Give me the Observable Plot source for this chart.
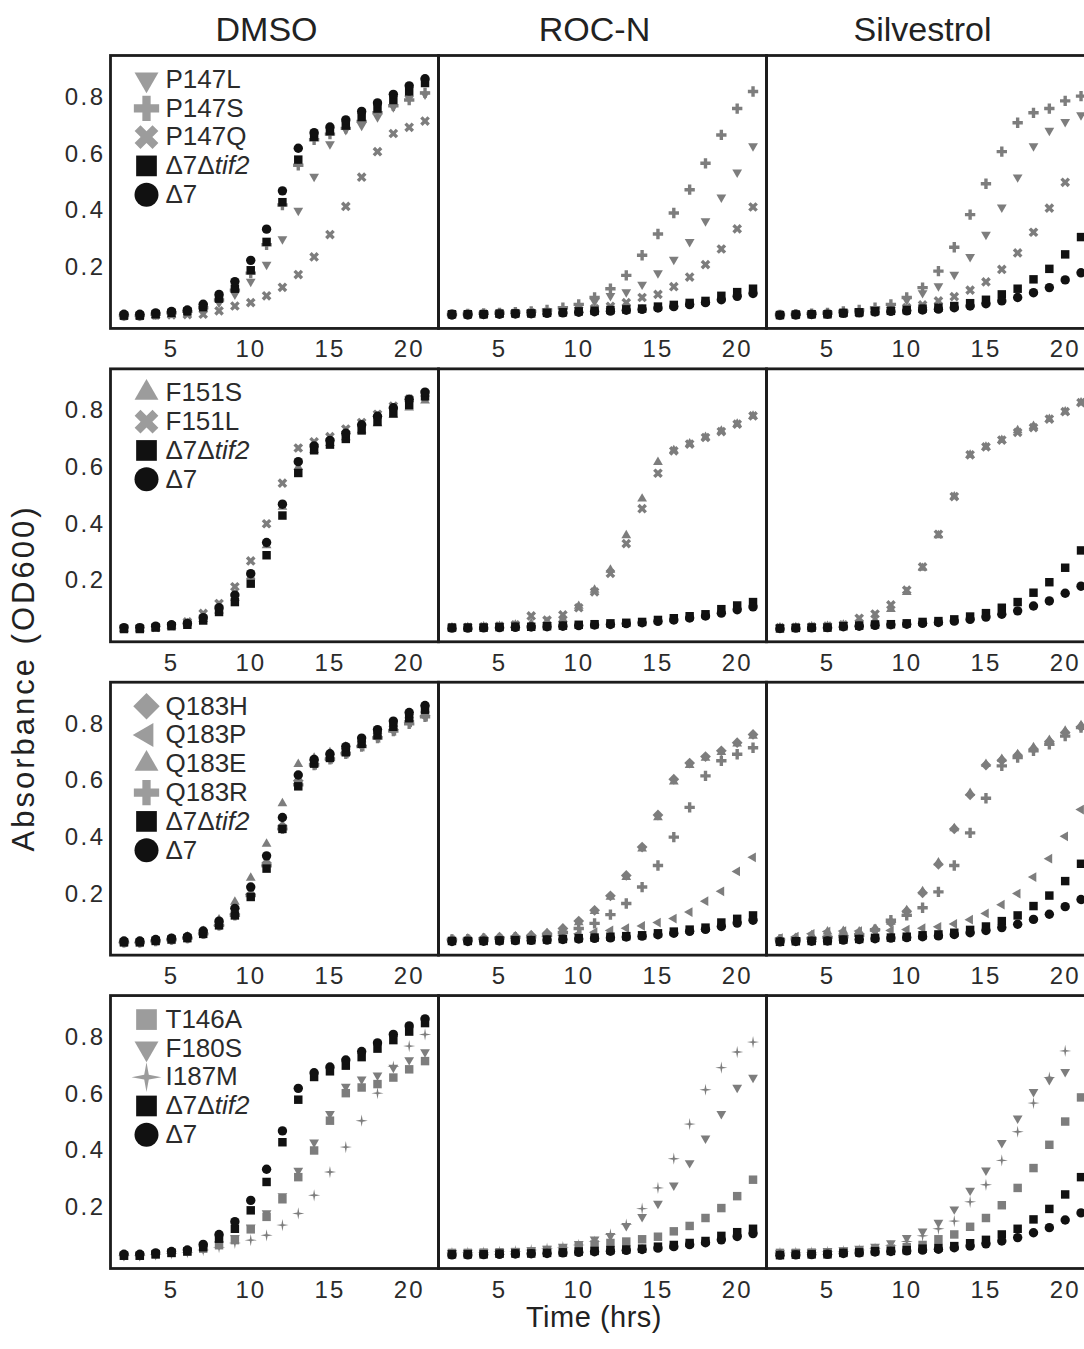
<!DOCTYPE html>
<html><head><meta charset="utf-8">
<script src="https://cdn.jsdelivr.net/npm/d3@7"></script>
<script src="https://cdn.jsdelivr.net/npm/@observablehq/plot@0.6"></script>
<style>
html,body{margin:0;padding:0;background:#fff;overflow:hidden;}
#chart svg{display:block;max-width:none;}
g[aria-label="y-axis tick label"] text{letter-spacing:2.5px;}
g[aria-label="x-axis tick label"] text{letter-spacing:2px;}
g[aria-label="legend-label"] text{letter-spacing:2px;}
g[aria-label="panel-title"] text{letter-spacing:2px;}
</style></head>
<body><div id="chart"></div>
<script>
// ---------- data ----------
const hours = [2,3,4,5,6,7,8,9,10,11,12,13,14,15,16,17,18,19,20,21];
const treatments = ["DMSO","ROC-N","Silvestrol"];

// each series: [DMSO, ROC-N, Silvestrol]
const d7tif2 = [
 [0.03,0.03,0.035,0.04,0.045,0.06,0.09,0.125,0.19,0.29,0.43,0.58,0.66,0.68,0.70,0.73,0.76,0.79,0.82,0.85],
 [0.035,0.035,0.035,0.037,0.038,0.038,0.04,0.042,0.045,0.047,0.05,0.052,0.055,0.062,0.068,0.075,0.082,0.10,0.113,0.125],
 [0.032,0.034,0.035,0.035,0.04,0.042,0.046,0.047,0.05,0.055,0.058,0.064,0.074,0.086,0.105,0.125,0.158,0.195,0.246,0.307]
];
const d7 = [
 [0.035,0.035,0.04,0.045,0.05,0.07,0.105,0.15,0.225,0.335,0.47,0.62,0.675,0.695,0.72,0.75,0.78,0.81,0.84,0.865],
 [0.033,0.033,0.034,0.035,0.036,0.037,0.038,0.04,0.042,0.044,0.046,0.049,0.052,0.057,0.062,0.069,0.076,0.086,0.098,0.108],
 [0.032,0.033,0.034,0.035,0.038,0.04,0.043,0.045,0.047,0.05,0.053,0.058,0.064,0.072,0.082,0.094,0.111,0.129,0.156,0.181]
];
const P147L = [
 [0.03,0.03,0.035,0.04,0.045,0.055,0.075,0.105,0.15,0.21,0.30,0.40,0.52,0.635,0.685,0.70,0.73,0.765,0.795,0.81],
 [0.035,0.035,0.036,0.038,0.04,0.042,0.046,0.052,0.062,0.08,0.10,0.113,0.14,0.18,0.228,0.29,0.363,0.447,0.535,0.628],
 [0.033,0.035,0.036,0.038,0.042,0.046,0.052,0.065,0.085,0.11,0.134,0.175,0.237,0.316,0.412,0.518,0.628,0.682,0.713,0.737]
];
const P147S = [
 [0.03,0.03,0.035,0.04,0.045,0.058,0.085,0.12,0.18,0.28,0.42,0.56,0.65,0.67,0.69,0.715,0.745,0.77,0.79,0.815],
 [0.035,0.036,0.038,0.04,0.042,0.045,0.05,0.058,0.07,0.094,0.125,0.172,0.243,0.318,0.392,0.474,0.567,0.667,0.76,0.82],
 [0.033,0.035,0.037,0.04,0.045,0.05,0.058,0.07,0.094,0.129,0.187,0.271,0.386,0.495,0.608,0.71,0.745,0.76,0.787,0.804]
];
const P147Q = [
 [0.03,0.03,0.032,0.033,0.034,0.035,0.047,0.064,0.076,0.10,0.13,0.175,0.237,0.316,0.415,0.518,0.608,0.672,0.694,0.716],
 [0.035,0.035,0.036,0.037,0.038,0.04,0.042,0.045,0.05,0.055,0.063,0.076,0.094,0.105,0.132,0.166,0.21,0.265,0.336,0.413],
 [0.033,0.034,0.035,0.036,0.038,0.04,0.044,0.05,0.058,0.068,0.082,0.097,0.12,0.149,0.193,0.251,0.324,0.409,0.50,null]
];
const F151S = [
 [0.03,0.03,0.035,0.04,0.05,0.065,0.095,0.14,0.215,0.325,0.46,0.6,0.66,0.685,0.705,0.73,0.755,0.785,0.81,0.835],
 [0.035,0.036,0.038,0.04,0.045,0.05,0.055,0.065,0.111,0.168,0.238,0.36,0.489,0.618,0.66,0.683,0.706,0.728,0.753,0.781],
 [0.035,0.036,0.038,0.04,0.045,0.05,0.06,0.1,0.16,0.245,0.36,0.497,0.644,0.672,0.696,0.73,0.745,0.77,0.796,0.828]
];
const F151L = [
 [0.032,0.033,0.036,0.042,0.055,0.085,0.12,0.179,0.27,0.401,0.544,0.668,0.69,0.708,0.735,0.758,0.787,0.816,0.84,0.86],
 [0.035,0.036,0.038,0.04,0.045,0.076,0.061,0.08,0.105,0.161,0.226,0.331,0.454,0.579,0.658,0.682,0.705,0.726,0.752,0.781],
 [0.035,0.036,0.038,0.04,0.045,0.068,0.083,0.115,0.167,0.249,0.364,0.497,0.644,0.672,0.696,0.723,0.74,0.77,0.796,0.828]
];
const Q183H = [
 [0.03,0.03,0.035,0.04,0.045,0.06,0.09,0.13,0.2,0.31,0.44,0.6,0.66,0.68,0.70,0.725,0.755,0.78,0.81,0.83],
 [0.04,0.042,0.045,0.048,0.05,0.055,0.062,0.079,0.105,0.143,0.194,0.266,0.366,0.479,0.605,0.662,0.685,0.705,0.734,0.763],
 [0.04,0.042,0.045,0.05,0.055,0.06,0.075,0.10,0.14,0.205,0.305,0.43,0.55,0.655,0.672,0.69,0.712,0.738,0.77,0.79]
];
const Q183P = [
 [0.03,0.03,0.035,0.04,0.045,0.06,0.09,0.13,0.2,0.3,0.43,0.59,0.655,0.675,0.695,0.72,0.75,0.775,0.805,0.825],
 [0.038,0.039,0.04,0.042,0.044,0.046,0.05,0.055,0.06,0.066,0.072,0.08,0.088,0.10,0.114,0.137,0.175,0.21,0.28,0.33],
 [0.045,0.05,0.06,0.068,0.07,0.07,0.07,0.072,0.075,0.08,0.085,0.095,0.11,0.132,0.163,0.202,0.26,0.325,0.404,0.498]
];
const Q183E = [
 [0.03,0.032,0.036,0.042,0.05,0.07,0.11,0.173,0.257,0.377,0.52,0.658,0.68,0.7,0.72,0.745,0.775,0.8,0.83,0.85],
 [0.04,0.042,0.045,0.048,0.05,0.055,0.062,0.075,0.10,0.14,0.19,0.26,0.36,0.47,0.596,0.655,0.68,0.7,0.73,0.758],
 [0.04,0.045,0.055,0.068,0.07,0.068,0.077,0.102,0.143,0.21,0.311,0.432,0.556,0.658,0.676,0.693,0.717,0.743,0.775,0.795]
];
const Q183R = [
 [0.03,0.03,0.035,0.04,0.045,0.06,0.09,0.125,0.195,0.3,0.43,0.585,0.655,0.675,0.695,0.72,0.75,0.775,0.8,0.825],
 [0.04,0.041,0.043,0.045,0.048,0.05,0.055,0.065,0.079,0.097,0.128,0.167,0.225,0.301,0.401,0.506,0.617,0.67,0.693,0.716],
 [0.04,0.042,0.044,0.047,0.05,0.055,0.075,0.108,0.125,0.152,0.208,0.301,0.416,0.538,0.652,0.681,0.705,0.728,0.757,0.787]
];
const T146A = [
 [0.03,0.03,0.035,0.04,0.045,0.055,0.067,0.085,0.123,0.167,0.229,0.307,0.401,0.506,0.603,0.623,0.635,0.658,0.687,0.716],
 [0.04,0.04,0.041,0.042,0.043,0.045,0.05,0.055,0.062,0.07,0.075,0.08,0.088,0.097,0.116,0.135,0.163,0.198,0.24,0.298],
 [0.04,0.04,0.041,0.042,0.044,0.046,0.05,0.055,0.06,0.068,0.088,0.105,0.132,0.163,0.208,0.269,0.339,0.421,0.503,0.588]
];
const F180S = [
 [0.03,0.03,0.035,0.04,0.045,0.055,0.07,0.093,0.13,0.18,0.24,0.33,0.43,0.53,0.626,0.652,0.666,0.693,0.72,0.748],
 [0.04,0.041,0.042,0.044,0.046,0.05,0.055,0.062,0.072,0.088,0.10,0.135,0.167,0.214,0.278,0.357,0.444,0.53,0.623,0.658],
 [0.04,0.042,0.044,0.047,0.05,0.055,0.062,0.075,0.093,0.116,0.147,0.194,0.26,0.331,0.428,0.514,0.608,0.65,0.678,null]
];
const I187M = [
 [0.03,0.03,0.034,0.038,0.042,0.05,0.06,0.075,0.085,0.102,0.138,0.179,0.243,0.325,0.413,0.506,0.603,0.697,0.769,0.81],
 [0.04,0.041,0.042,0.044,0.046,0.05,0.055,0.06,0.068,0.08,0.105,0.14,0.196,0.269,0.372,0.494,0.615,0.693,0.748,0.783],
 [0.04,0.041,0.042,0.044,0.046,0.05,0.055,0.065,0.08,0.10,0.125,0.152,0.22,0.28,0.366,0.467,0.568,0.658,0.752,null]
];

const panelRows = [
 {row:1, strains:[["P147L",P147L,"triDown"],["P147S",P147S,"plus"],["P147Q",P147Q,"times"]]},
 {row:2, strains:[["F151S",F151S,"triUp"],["F151L",F151L,"times"]]},
 {row:3, strains:[["Q183H",Q183H,"diamond"],["Q183P",Q183P,"triLeft"],["Q183E",Q183E,"triUp"],["Q183R",Q183R,"plus"]]},
 {row:4, strains:[["T146A",T146A,"square"],["F180S",F180S,"triDown"],["I187M",I187M,"star4"]]}
];
const controls = [["Δ7Δtif2", d7tif2, "square"], ["Δ7", d7, "circle"]];

// ---------- symbols ----------
function poly(pts){
  return {draw(ctx, size){
    const r = Math.sqrt(size/Math.PI);
    pts.forEach(([x,y],i) => i ? ctx.lineTo(x*r,y*r) : ctx.moveTo(x*r,y*r));
    ctx.closePath();
  }};
}
const s60 = Math.sqrt(3)/2, R = 1.2, L = 1.1, w = 0.36;
const plusPts = [[-w,-L],[w,-L],[w,-w],[L,-w],[L,w],[w,w],[w,L],[-w,L],[-w,w],[-L,w],[-L,-w],[-w,-w]];
const SYM = {
  square: poly([[-0.9,-0.9],[0.9,-0.9],[0.9,0.9],[-0.9,0.9]]),
  circle: {draw(ctx,size){const r=Math.sqrt(size/Math.PI); ctx.moveTo(r,0); ctx.arc(0,0,r,0,2*Math.PI); ctx.closePath();}},
  triDown: poly([[0,R],[-R*s60,-R/2],[R*s60,-R/2]]),
  triUp: poly([[0,-R],[R*s60,R/2],[-R*s60,R/2]]),
  triLeft: poly([[-R,0],[R/2,-R*s60],[R/2,R*s60]]),
  plus: poly(plusPts),
  times: poly(plusPts.map(([x,y]) => [(x-y)/Math.SQRT2,(x+y)/Math.SQRT2])),
  diamond: poly([[0,-1.15],[1.15,0],[0,1.15],[-1.15,0]]),
  star4: poly([[0,-1.3],[0.2,-0.2],[1.3,0],[0.2,0.2],[0,1.3],[-0.2,0.2],[-1.3,0],[-0.2,-0.2]])
};

const GRAY = "#7d7d7d", LGRAY = "#9c9c9c", BLACK = "#111";

// ---------- tables ----------
const points = [];
const legend = [];
for (const {row, strains} of panelRows) {
  const all = strains.map(s => [...s, false]).concat(controls.map(s => [...s, true]));
  all.forEach(([label, series, sym, ctrl], i) => {
    legend.push({row, treatment:"DMSO", label, sym, i, color: ctrl ? BLACK : LGRAY});
    series.forEach((vals, j) => vals.forEach((od, k) => {
      if (od != null) points.push({row, treatment: treatments[j], t: hours[k], od, sym, color: ctrl ? BLACK : GRAY, ctrl});
    }));
  });
}

const groups = d3.groups(points, d => d.sym + "|" + d.color)
  .sort((a, b) => d3.ascending(a[1][0].ctrl, b[1][0].ctrl));

const dotMarks = groups.map(([k, rows]) => Plot.dot(rows, {
  x: "t", y: "od", fx: "treatment", fy: "row",
  symbol: SYM[rows[0].sym], fill: rows[0].color, r: 4.7
}));

const legendMarks = [];
legend.forEach(e => {
  legendMarks.push(Plot.dot([e], {fx:"treatment", fy:"row", frameAnchor:"top-left", dx:36, dy:24 + 28.8*e.i,
    symbol: SYM[e.sym], fill: e.color, r: e.sym === "circle" ? 12 : 11.5}));
});
d3.range(6).forEach(i => {
  legendMarks.push(Plot.text(legend.filter(e => e.i === i), {fx:"treatment", fy:"row", frameAnchor:"top-left",
    dx:55, dy:24 + 28.8*i, text:"label", textAnchor:"start", lineAnchor:"middle", fontSize:26, fill:"#2b2b2b", ariaLabel:"legend-label"}));
});

const titles = treatments.map(t => ({treatment:t, row:1}));

const plot = Plot.plot({
  width: 1094, height: 1349,
  marginLeft: 110, marginRight: 0, marginTop: 55, marginBottom: 81,
  style: {fontFamily: "'Liberation Sans', Arial, Helvetica, sans-serif", maxWidth: "none", color: "#222", background: "#fff"},
  x: {domain: [1.15, 21.85]},
  y: {domain: [-0.015, 0.947]},
  fx: {domain: treatments, paddingInner: 0, paddingOuter: 0, round: false, axis: null},
  fy: {domain: [1,2,3,4], paddingInner: 0.129, paddingOuter: 0, round: false, axis: null},
  marks: [
    ...dotMarks,
    Plot.frame({stroke: "#1c1c1c", strokeWidth: 2.8}),
    Plot.axisX({ticks: [5,10,15,20], tickSize: 0, tickPadding: 12, fontSize: 24, label: null, facetAnchor: null, fill: "#2b2b2b"}),
    Plot.axisY({ticks: [0.2,0.4,0.6,0.8], tickFormat: d3.format(".1f"), tickSize: 0, tickPadding: 5, fontSize: 24, label: null, fill: "#2b2b2b"}),
    Plot.text(titles, {fx: "treatment", fy: "row", frameAnchor: "top", dx: -8, dy: -25, text: "treatment", fontSize: 34, lineAnchor: "middle", fill: "#222", ariaLabel: "panel-title"}),
    ...legendMarks
  ]
});

// italic "tif2"
d3.select(plot).selectAll("text").each(function() {
  if (this.textContent === "Δ7Δtif2") {
    this.textContent = "Δ7Δ";
    const ts = document.createElementNS("http://www.w3.org/2000/svg", "tspan");
    ts.setAttribute("font-style", "italic");
    ts.textContent = "tif2";
    this.appendChild(ts);
  }
});

const svg = d3.select(plot);
svg.append("text").attr("transform", "translate(34,678) rotate(-90)")
  .attr("text-anchor", "middle").attr("font-size", 31).attr("fill", "#222")
  .style("letter-spacing", "3px").text("Absorbance (OD600)");
svg.append("text").attr("x", 594).attr("y", 1327)
  .attr("text-anchor", "middle").attr("font-size", 29).attr("fill", "#222")
  .style("letter-spacing", "0.5px").text("Time (hrs)");

document.getElementById("chart").appendChild(plot);
</script>
</body></html>
